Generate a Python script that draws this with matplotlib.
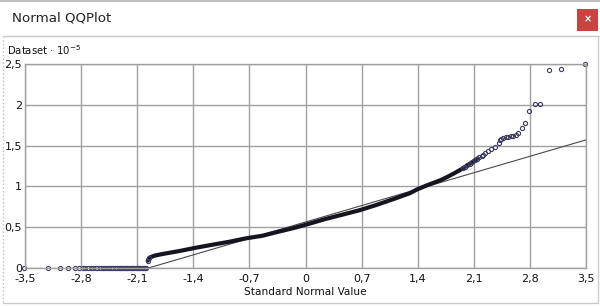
import matplotlib.pyplot as plt
from matplotlib.lines import Line2D
from matplotlib.patches import Rectangle

# ---- data (theoretical quantile, sample value * 1e5)
zero_x = [-3.51, -3.21, -3.06, -2.96, -2.88, -2.82, -2.78, -2.75, -2.71, -2.68,
          -2.65, -2.62, -2.60, -2.57, -2.55, -2.53, -2.51, -2.49, -2.47, -2.45,
          -2.43, -2.415, -2.40, -2.38, -2.365, -2.35, -2.33, -2.315, -2.30, -2.285,
          -2.27, -2.255, -2.24, -2.225, -2.21, -2.195, -2.18, -2.165, -2.15, -2.135,
          -2.12, -2.105, -2.09, -2.075, -2.06, -2.045, -2.03, -2.015, -2.0, -1.99]

curve_x = [-1.969, -1.948, -1.885, -1.782, -1.573, -1.365, -1.157, -0.949, -0.740,
           -0.533, -0.366, -0.159, -0.009, 0.258, 0.466, 0.674, 0.883, 1.090,
           1.298, 1.386, 1.507, 1.694, 1.777, 1.860, 1.944, 2.026, 2.089, 2.151]
curve_y = [0.090, 0.126, 0.151, 0.172, 0.208, 0.249, 0.286, 0.322, 0.364,
           0.396, 0.438, 0.487, 0.527, 0.603, 0.655, 0.708, 0.772, 0.842,
           0.915, 0.960, 1.010, 1.080, 1.120, 1.163, 1.210, 1.262, 1.303, 1.344]

upper_x = [1.96, 1.99, 2.02, 2.05, 2.08, 2.11, 2.14, 2.17, 2.20, 2.213, 2.245,
           2.276, 2.318, 2.360, 2.409, 2.422, 2.438, 2.468, 2.497, 2.526, 2.559,
           2.588, 2.622, 2.655, 2.697, 2.738, 2.793, 2.859, 2.930, 3.037, 3.184, 3.492]
upper_y = [1.22, 1.24, 1.26, 1.275, 1.30, 1.32, 1.335, 1.355, 1.375, 1.385, 1.41,
           1.437, 1.455, 1.487, 1.528, 1.569, 1.585, 1.597, 1.605, 1.609, 1.614,
           1.618, 1.626, 1.654, 1.712, 1.777, 1.918, 2.006, 2.013, 2.426, 2.442, 2.503]

ref_x = [-1.96, 3.5]
ref_y = [0.0, 1.57]

x_ticks = [-3.5, -2.8, -2.1, -1.4, -0.7, 0, 0.7, 1.4, 2.1, 2.8, 3.5]
y_ticks = [0, 0.5, 1, 1.5, 2, 2.5]

W, H = 600, 306
fig = plt.figure(figsize=(W / 100, H / 100), dpi=100)
fig.patch.set_facecolor('white')


def px(x, y):
    return x / W, 1 - y / H


def fig_line(x0, y0, x1, y1, color, lw=1.0, ls='-'):
    a, b = px(x0, y0)
    c, d = px(x1, y1)
    fig.add_artist(Line2D([a, c], [b, d], transform=fig.transFigure,
                          color=color, lw=lw, ls=ls))


# window frame
fig_line(0, 1, W, 1, '#b4b4b4', 1.2)
fig_line(4, 35.5, W, 35.5, '#c8c8c8', 1.0)
fig_line(3, 36, 3, 302, '#bdbdbd', 1.0, ':')
fig_line(3, 302.5, 598, 302.5, '#c8c8c8', 1.0)
fig_line(597.5, 36, 597.5, 302, '#d0d0d0', 1.0)

x0, y0 = px(12, 18)
fig.text(x0, y0, 'Normal QQPlot', fontsize=9.6, va='center', ha='left',
         color='#222222')
bx, by = px(577, 31)
fig.add_artist(Rectangle((bx, by), 21 / W, 22 / H, transform=fig.transFigure,
                         facecolor='#c9433f', edgecolor='none'))
cx, cy = px(587.5, 19.5)
fig.text(cx, cy, '×', color='white', fontsize=7, ha='center', va='center',
         fontweight='bold')

tx, ty = px(7, 50)
fig.text(tx, ty, r'Dataset · 10$^{\mathregular{-5}}$', fontsize=7.3,
         ha='left', va='center', color='#111111')

# axes
ax = fig.add_axes([25 / W, 1 - 268 / H, 561 / W, 204 / H])
ax.set_xlim(-3.5, 3.5)
ax.set_ylim(0, 2.5)
ax.set_xticks(x_ticks)
ax.set_yticks(y_ticks)
ax.set_xticklabels([('%g' % v).replace('.', ',') for v in x_ticks])
ax.set_yticklabels([('%g' % v).replace('.', ',') for v in y_ticks])
ax.tick_params(length=0, labelsize=8, colors='#111111')
ax.tick_params(axis='x', pad=4)
ax.tick_params(axis='y', pad=2)
ax.grid(True, color='#a0a0a0', lw=1.0)
ax.set_axisbelow(True)
for s in ax.spines.values():
    s.set_color('#a0a0a0')
    s.set_linewidth(1.0)

ax.set_xlabel('Standard Normal Value', fontsize=7.6, color='#111111')
ax.xaxis.set_label_coords(0.5, -0.093)

mk = dict(ls='none', marker='o', ms=3.0, mfc='none', mec='#3d3d5c', mew=0.8,
          clip_on=False)
ax.plot(ref_x, ref_y, color='#4a4a4a', lw=0.8)
ax.plot(curve_x, curve_y, color='#151520', lw=3.0, solid_capstyle='round')
ax.plot(curve_x[:2], curve_y[:2], **mk)
ax.plot(upper_x, upper_y, **mk)
ax.plot(zero_x, [0] * len(zero_x), **mk)

fig.savefig('out.png', dpi=100)
